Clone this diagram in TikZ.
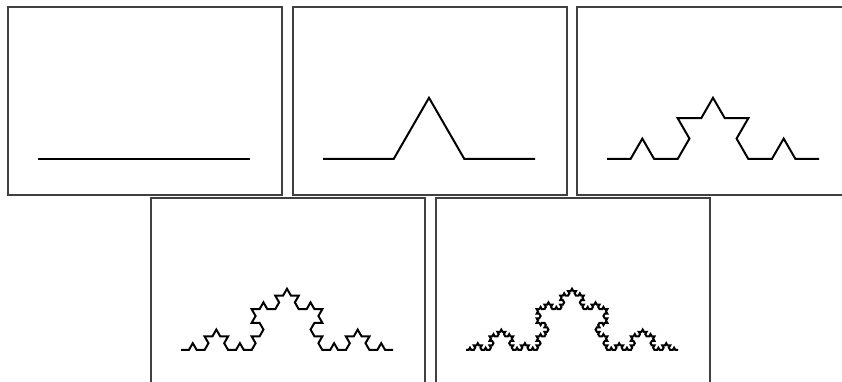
\documentclass[tikz,border=0pt]{standalone}
\usepackage{tikz}
\usetikzlibrary{lindenmayersystems}

% Koch rule: every segment becomes four, with a bump upward
\pgfdeclarelindenmayersystem{koch}{
  \rule{F -> F+F--F+F}
}

\begin{document}
\begin{tikzpicture}[x=1pt, y=1pt,
    panel/.style={draw=black!75, line width=1.2pt},
    kochline/.style={draw=black, line width=2pt, line join=miter}]
  \def\H{382}
  \useasboundingbox (0,0) rectangle (842,\H);
  \clip (0,0) rectangle (842,\H);

  % Panels: order / left edge / top edge (pixel coordinates, y down)
  \foreach \n/\lx/\ty in {0/8/7, 1/293/7, 2/577/7, 3/151/198, 4/436/198} {
    \draw[panel] (\lx,{\H-\ty}) rectangle ++(274,-188);
    \pgfmathsetmacro{\stp}{212/3^\n}
    \begin{scope}[shift={({\lx+30},{\H-\ty-152})}]
      \draw[kochline, l-system={koch, axiom=F, order=\n, step=\stp pt, angle=60}]
        lindenmayer system;
    \end{scope}
  }
\end{tikzpicture}
\end{document}
